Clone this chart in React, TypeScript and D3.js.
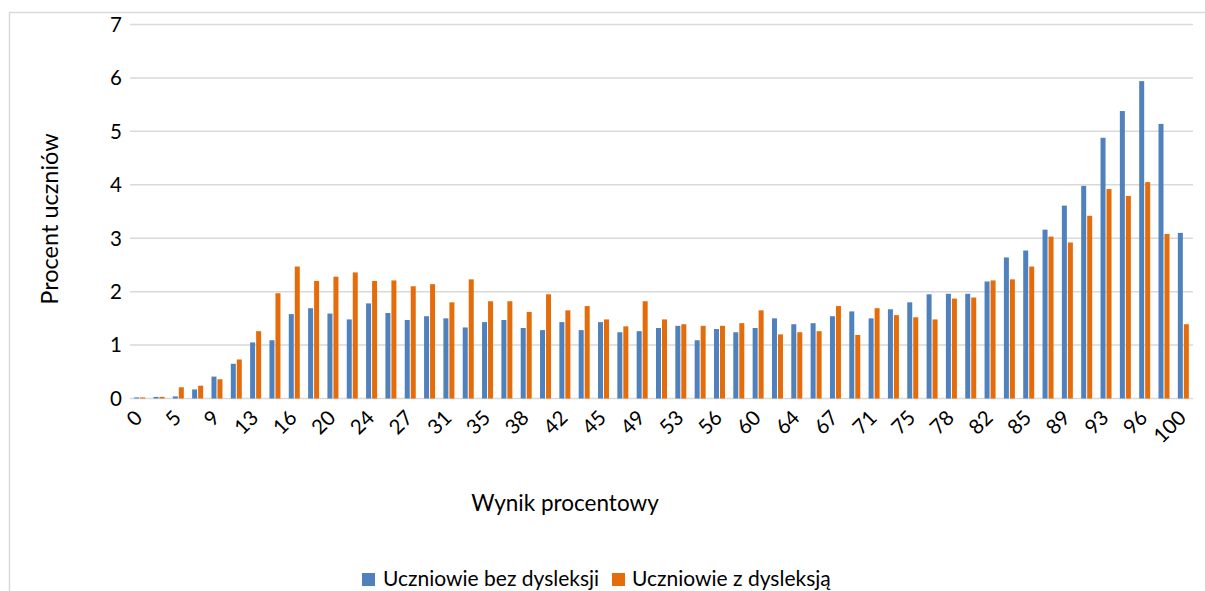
import React from "react";
import * as d3 from "d3";

const categories = ["0","4","5","7","9","11","13","15","16","18","20","22","24","25","27","29","31","33","35","36","38","40","42","44","45","47","49","51","53","55","56","58","60","62","64","65","67","69","71","73","75","76","78","80","82","84","85","87","89","91","93","95","96","98","100"];

const bezDysleksji = [0.02,0.03,0.04,0.17,0.41,0.65,1.05,1.09,1.58,1.69,1.59,1.48,1.78,1.60,1.47,1.54,1.50,1.33,1.43,1.47,1.32,1.28,1.43,1.28,1.43,1.24,1.26,1.32,1.36,1.09,1.30,1.24,1.32,1.50,1.39,1.41,1.54,1.63,1.50,1.67,1.80,1.95,1.96,1.96,2.19,2.64,2.77,3.16,3.61,3.98,4.88,5.38,5.94,5.14,3.10];

const zDysleksja = [0.02,0.03,0.21,0.24,0.36,0.73,1.26,1.97,2.47,2.20,2.28,2.36,2.20,2.21,2.10,2.14,1.80,2.23,1.82,1.82,1.62,1.95,1.65,1.73,1.48,1.35,1.82,1.48,1.39,1.36,1.36,1.41,1.65,1.20,1.24,1.26,1.73,1.19,1.69,1.56,1.52,1.48,1.87,1.89,2.21,2.23,2.47,3.03,2.92,3.42,3.92,3.79,4.05,3.08,1.39];

const yTicks = [0,1,2,3,4,5,6,7];
const seriesNames = ["Uczniowie bez dysleksji", "Uczniowie z dysleksją"];
const colors = ["#4F81BD", "#E46C0A"];

const W = 1205, H = 591;
const plot = { left: 130, right: 1193, top: 24.5, bottom: 398.5 };
const FONT = "Lato, 'Open Sans', sans-serif";

export default function App() {
  const x = d3.scaleBand<string>().domain(categories).range([plot.left, plot.right]).padding(0);
  const y = d3.scaleLinear().domain([0, 7]).range([plot.bottom, plot.top]);
  const bw = 5;
  const gap = 1;
  const series = [bezDysleksji, zDysleksja];

  return (
    <svg width={W} height={H} style={{ position: "absolute", left: 0, top: 0, background: "#fff" }} fontFamily={FONT}>
      <rect x={9.5} y={12.5} width={W + 10} height={H + 10} fill="#fff" stroke="#d9d9d9" strokeWidth={1.5} />
      {yTicks.map((t) => (
        <g key={t}>
          <line x1={plot.left} x2={plot.right} y1={y(t)} y2={y(t)} stroke="#d9d9d9" strokeWidth={1.5} />
          <text x={122} y={y(t)} dy="0.36em" textAnchor="end" fontSize={20.5} fill="#000">{t}</text>
        </g>
      ))}
      {series.map((vals, si) => (
        <g key={si} fill={colors[si]}>
          {vals.map((v, i) => {
            const cx = (x(categories[i]) as number) + x.bandwidth() / 2;
            const bx = si === 0 ? cx - gap / 2 - bw : cx + gap / 2;
            return <rect key={i} x={bx} y={y(v)} width={bw} height={y(0) - y(v)} />;
          })}
        </g>
      ))}
      {categories.map((c, i) => {
        if (i % 2 !== 0) return null;
        const cx = (x(c) as number) + x.bandwidth() / 2;
        return (
          <text key={c} transform={`translate(${cx + 4},${419}) rotate(-45)`} textAnchor="end" fontSize={20.5} fill="#000">{c}</text>
        );
      })}
      <text transform="translate(58,219) rotate(-90)" textAnchor="middle" fontSize={23.5} fill="#000">Procent uczniów</text>
      <text x={565} y={511} textAnchor="middle" fontSize={22.5} fill="#000">Wynik procentowy</text>
      <g fontSize={21} fill="#000">
        <rect x={362} y={573} width={13} height={13} fill={colors[0]} />
        <text x={383} y={586}>{seriesNames[0]}</text>
        <rect x={612} y={573} width={13} height={13} fill={colors[1]} />
        <text x={632} y={586}>{seriesNames[1]}</text>
      </g>
    </svg>
  );
}
